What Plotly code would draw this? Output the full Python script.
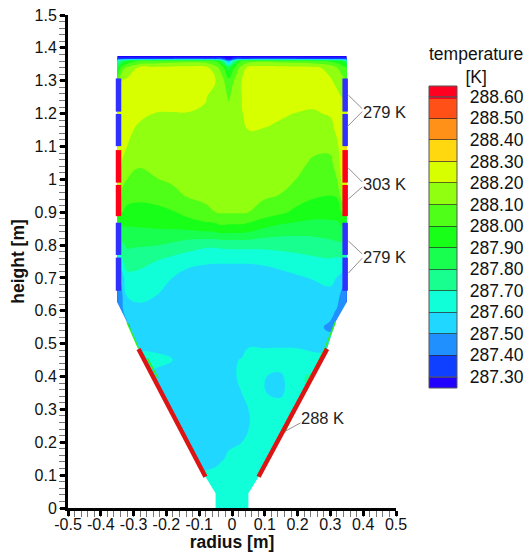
import plotly.graph_objects as go

radius_m = [-.35,-.335,-.32,-.285,-.234,-.182,-.133,-.081,-.05,-.03,-.01,.01,.03,.05,.096,.147,.198,.249,.30,.32,.335,.35]
height_m = [1.375,1.367,1.36,1.34,1.3,1.25,1.2,1.15,1.1,1.05,1.0,.95,.9,.85,.8,.75,.7,.65,.6,.55,.5,.45,.4,.35,.3,.25,.2,.15,.1,.05,0]
temperature_K = [
[287.25]*22,
[287.35]*10+[287.3]+[287.35]*11,
[287.7,287.8,287.9,288.0,288.03,288.05,288.07,288.05,288.0,287.8,287.45,287.8,288.0,288.05,288.08,288.06,288.05,288.03,287.98,287.95,287.9,287.8],
[287.85,288.05,288.12,288.21,288.22,288.23,288.23,288.23,288.13,288.05,287.85,288.03,288.14,288.23,288.24,288.24,288.23,288.22,288.17,288.1,288.05,288.0],
[288.05,288.2,288.22,288.24,288.26,288.27,288.27,288.24,288.2,288.13,288.03,288.12,288.2,288.25,288.26,288.27,288.26,288.25,288.21,288.18,288.14,288.1],
[288.2,288.27,288.24,288.26,288.25,288.25,288.25,288.205,288.17,288.14,288.09,288.14,288.2,288.24,288.25,288.25,288.24,288.23,288.23,288.22,288.2,288.18],
[288.3,288.27,288.24,288.22,288.197,288.195,288.195,288.19,288.16,288.15,288.13,288.15,288.195,288.23,288.23,288.21,288.197,288.19,288.21,288.23,288.24,288.3],
[288.28,288.25,288.22,288.185,288.173,288.174,288.177,288.178,288.15,288.15,288.14,288.15,288.175,288.2,288.196,288.184,288.172,288.156,288.168,288.22,288.25,288.28],
[288.3,288.24,288.2,288.15,288.148,288.154,288.16,288.162,288.15,288.15,288.14,288.15,288.155,288.17,288.175,288.162,288.148,288.12,288.12,288.18,288.25,288.35],
[288.35,288.19,288.145,288.114,288.123,288.134,288.143,288.146,288.145,288.14,288.14,288.14,288.145,288.15,288.155,288.14,288.123,288.086,288.08,288.14,288.25,288.45],
[288.3,288.13,288.10,288.07,288.096,288.113,288.125,288.13,288.135,288.13,288.13,288.13,288.13,288.13,288.134,288.12,288.098,288.05,288.04,288.10,288.22,288.3],
[288.25,288.08,288.04,288.025,288.037,288.075,288.108,288.115,288.12,288.12,288.12,288.12,288.12,288.115,288.114,288.097,288.044,288.013,288.0,288.01,288.15,288.28],
[288.0,288.0,287.97,287.965,287.97,287.99,288.04,288.085,288.1,288.11,288.11,288.11,288.11,288.1,288.06,288.02,287.975,287.943,287.933,287.94,288.0,288.0],
[287.85,287.88,287.89,287.895,287.9,287.905,287.915,287.94,287.95,287.97,287.96,287.96,287.96,287.945,287.895,287.86,287.85,287.846,287.864,287.865,287.88,287.85],
[287.75,287.78,287.815,287.81,287.805,287.78,287.745,287.72,287.72,287.725,287.73,287.73,287.73,287.73,287.73,287.735,287.74,287.752,287.767,287.78,287.78,287.75],
[287.6,287.68,287.74,287.73,287.70,287.66,287.635,287.615,287.61,287.61,287.61,287.61,287.61,287.61,287.62,287.64,287.66,287.675,287.683,287.67,287.68,287.65],
[287.45,287.55,287.67,287.67,287.655,287.60,287.55,287.54,287.54,287.54,287.54,287.54,287.54,287.54,287.54,287.56,287.585,287.608,287.63,287.595,287.56,287.5],
[287.42,287.49,287.614,287.62,287.605,287.55,287.53,287.52,287.52,287.52,287.52,287.52,287.52,287.52,287.52,287.53,287.55,287.55,287.57,287.55,287.47,287.45],
[287.42,287.49,287.53,287.58,287.57,287.54,287.52,287.52,287.52,287.52,287.52,287.52,287.52,287.52,287.52,287.53,287.54,287.54,287.53,287.49,287.46,287.55],
[287.42,287.45,287.48,287.55,287.55,287.54,287.53,287.53,287.53,287.53,287.53,287.53,287.54,287.54,287.54,287.54,287.54,287.53,287.48,287.49,287.6,287.6],
[287.5,287.5,287.5,287.55,287.55,287.55,287.54,287.54,287.54,287.54,287.55,287.56,287.57,287.59,287.585,287.58,287.58,287.57,287.55,287.6,287.6,287.6],
[287.6,287.6,287.6,287.65,287.64,287.605,287.55,287.54,287.54,287.54,287.56,287.595,287.605,287.63,287.64,287.66,287.65,287.63,287.65,287.7,287.7,287.7],
[287.6,287.6,287.6,287.58,287.56,287.55,287.54,287.55,287.56,287.57,287.58,287.595,287.62,287.64,287.605,287.58,287.68,287.72,287.75,287.75,287.75,287.75],
[287.6,287.6,287.6,287.58,287.56,287.55,287.54,287.55,287.55,287.56,287.565,287.575,287.6,287.63,287.605,287.58,287.67,287.72,287.75,287.75,287.75,287.75],
[287.6,287.6,287.6,287.58,287.56,287.55,287.54,287.54,287.55,287.55,287.56,287.57,287.58,287.6,287.64,287.65,287.68,287.72,287.75,287.75,287.75,287.75],
[287.6,287.6,287.6,287.58,287.56,287.55,287.54,287.54,287.55,287.55,287.56,287.565,287.57,287.595,287.65,287.66,287.68,287.72,287.75,287.75,287.75,287.75],
[287.6,287.6,287.6,287.58,287.55,287.54,287.54,287.55,287.56,287.57,287.58,287.585,287.6,287.63,287.65,287.66,287.68,287.7,287.7,287.7,287.7,287.7],
[287.6,287.6,287.6,287.58,287.55,287.54,287.54,287.55,287.55,287.59,287.62,287.64,287.65,287.65,287.66,287.66,287.66,287.66,287.66,287.66,287.66,287.66],
[287.6,287.6,287.6,287.6,287.56,287.56,287.58,287.62,287.65,287.66,287.66,287.66,287.66,287.66,287.66,287.66,287.66,287.66,287.66,287.66,287.66,287.66],
[287.66]*22,
[287.66]*22,
]
band_colors = ["#2200ff","#1040ff","#2090ff","#20d8ff","#10ffd8","#18ff90","#18ff50","#18ff18",
               "#50ff18","#90ff10","#d8ff00","#ffd810","#ff9018","#ff5018","#ff0020"]
levels = [287.3,287.4,287.5,287.6,287.7,287.8,287.9,288.0,288.1,288.2,288.3,288.4,288.5,288.6]
level_labels = ["\u00a0\u2009%.2f" % v for v in levels]
x_ticks = [-.5,-.4,-.3,-.2,-.1,0,.1,.2,.3,.4,.5]
x_labels = ["-0.5","-0.4","-0.3","-0.2","-0.1","0","0.1","0.2","0.3","0.4","0.5"]
y_ticks = [0,.1,.2,.3,.4,.5,.6,.7,.8,.9,1,1.1,1.2,1.3,1.4,1.5]
y_labels = ["0","0.1","0.2","0.3","0.4","0.5","0.6","0.7","0.8","0.9","1","1.1","1.2","1.3","1.4","1.5"]

wall_r_left = [-.36,-.352,-.352,-.32,-.285,-.081,-.05,-.05,-.36]
wall_h_left = [1.39,1.39,.63,.565,.484,.095,.045,0,0]
wall_r_right = [.36,.352,.352,.315,.29,.081,.05,.05,.36]
wall_h_right = [1.39,1.39,.63,.565,.484,.095,.045,0,0]

bar_heights = [(1.307,1.206),(1.199,1.101),(1.089,.99),(.983,.888),(.868,.77),(.762,.661)]
bar_colors = ["#3030ff","#3030ff","#ff0018","#ff0018","#3030ff","#3030ff"]
bar_r = [-.346,.345]
cone_left_r, cone_left_h = [-.285,-.081], [.484,.095]
cone_right_r, cone_right_h = [.29,.081], [.484,.095]
strips = [([.315,.285],[.565,.49]),([.285,.16],[.49,.23]),([-.32,-.285],[.565,.486]),([-.258,-.225],[.455,.395])]
leaders = [
 ([.355,.397],[1.256,1.215]),([.352,.397],[1.161,1.206]),
 ([.355,.397],[1.034,.992]),([.355,.397],[.94,.977]),
 ([.355,.397],[.812,.773]),([.355,.397],[.715,.76]),
 ([.209,.163],[.259,.234]),
]
labels = [("279 K",.394,1.205),("303 K",.394,.986),("279 K",.394,.764),("288 K",.203,.275)]

color_stops = [[0, band_colors[0]]] + [[(k+.5)/13, band_colors[k+1]] for k in range(13)] + [[1, band_colors[14]]]

fig = go.Figure()
fig.add_trace(go.Contour(
    x=radius_m, y=height_m[::-1], z=temperature_K[::-1],
    contours=dict(coloring="fill", start=levels[0], end=levels[-1], size=0.1, showlines=False),
    line=dict(width=0, smoothing=1.3),
    zmin=levels[0], zmax=levels[-1],
    colorscale=color_stops,
    hoverinfo="skip",
    colorbar=dict(
        lenmode="pixels", len=280.4, thicknessmode="pixels", thickness=28,
        x=(429-68)/328, xanchor="left", xpad=0, y=(508-96.8)/493, yanchor="top", ypad=0,
        tickmode="array", tickvals=levels, ticktext=level_labels,
        ticks="inside", ticklen=28, tickwidth=1, tickcolor="rgba(40,40,40,0.7)",
        tickfont=dict(family="Liberation Sans", size=17.5, color="#111"),
        outlinecolor="#555", outlinewidth=1,
    ),
))
white = dict(mode="lines", fill="toself", fillcolor="white", line=dict(width=0), hoverinfo="skip", showlegend=False)
fig.add_trace(go.Scatter(x=wall_r_left, y=wall_h_left, **white))
fig.add_trace(go.Scatter(x=wall_r_right, y=wall_h_right, **white))
for sx, sy in strips:
    fig.add_trace(go.Scatter(x=sx, y=sy, mode="lines", line=dict(color="#30f020", width=1.5), showlegend=False, hoverinfo="skip"))
for r in bar_r:
    for (h1, h0), c in zip(bar_heights, bar_colors):
        fig.add_trace(go.Scatter(x=[r, r], y=[h1, h0], mode="lines", line=dict(color=c, width=5.5), showlegend=False, hoverinfo="skip"))
for cx, cy in ((cone_left_r, cone_left_h), (cone_right_r, cone_right_h)):
    fig.add_trace(go.Scatter(x=cx, y=cy, mode="lines", line=dict(color="#dc1414", width=4.5), showlegend=False, hoverinfo="skip"))
for lx, ly in leaders:
    fig.add_trace(go.Scatter(x=lx, y=ly, mode="lines", line=dict(color="#909090", width=1), showlegend=False, hoverinfo="skip"))

axis_common = dict(
    showgrid=False, zeroline=False, showline=True, linecolor="black", linewidth=3,
    ticks="outside", ticklen=5, tickwidth=2.5, tickcolor="black", tickangle=0, automargin=False,
    tickfont=dict(family="Liberation Sans", size=16, color="#111"),
    minor=dict(dtick=0.02, ticks="outside", ticklen=6, tickwidth=1.2, tickcolor="#777", showgrid=False),
    title_font=dict(family="Liberation Sans", size=17.5, color="#111"),
)
fig.update_xaxes(range=[-.5,.5], tickmode="array", tickvals=x_ticks, ticktext=x_labels, ticklabelstandoff=-5,
                 title=dict(text="<b>radius [m]</b>", standoff=8), **axis_common)
fig.update_yaxes(range=[0,1.5], tickmode="array", tickvals=y_ticks, ticktext=y_labels,
                 title=dict(text="<b>height [m]</b>", standoff=6), **axis_common)
annotations = [dict(x=lx, y=ly, xref="x", yref="y", text=t, showarrow=False, xanchor="left", yanchor="middle",
                    font=dict(family="Liberation Sans", size=16.5, color="#222")) for t, lx, ly in labels]
annotations.append(dict(x=(476-68)/328, y=(508-65)/493, xref="paper", yref="paper", text="temperature<br>[K]",
                        showarrow=False, xanchor="center", yanchor="middle",
                        font=dict(family="Liberation Sans", size=17.5, color="#111")))
cb_x0, cb_x1 = (429-68)/328, (457-68)/328
end_caps = [
    dict(type="rect", xref="paper", yref="paper", x0=cb_x0, x1=cb_x1, y0=(508-97)/493, y1=(508-86)/493,
         fillcolor=band_colors[14], line=dict(color="#555", width=1)),
    dict(type="rect", xref="paper", yref="paper", x0=cb_x0, x1=cb_x1, y0=(508-388)/493, y1=(508-377)/493,
         fillcolor=band_colors[0], line=dict(color="#555", width=1)),
]
fig.update_layout(width=525, height=552, margin=dict(l=68, r=129, t=15, b=44, pad=0, autoexpand=False),
                  plot_bgcolor="white", paper_bgcolor="white", showlegend=False,
                  annotations=annotations, shapes=end_caps)
fig.write_html("out.html", post_script="document.body.style.margin='0';", config=dict(displayModeBar=False))
